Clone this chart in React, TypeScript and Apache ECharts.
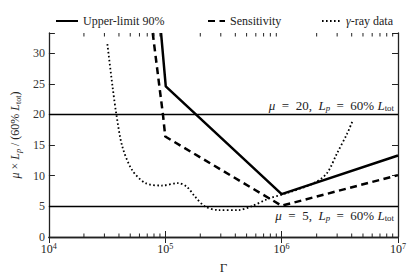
import React, { useEffect, useRef } from 'react';
import * as echarts from 'echarts';

// Data (Γ on x, μ × L_p / (60% L_tot) on y)
const upperGamma = [9.2e4, 1.01e5, 1.0e6, 1.0e7];
const upperMu = [33.3, 24.6, 7.0, 13.3];

const sensGamma = [7.8e4, 8.9e4, 9.55e4, 1.0e5, 1.0e6, 1.0e7];
const sensMu = [33.3, 24.6, 20.0, 16.4, 5.1, 10.1];

const rayGamma = [3.18e4, 3.52e4, 3.8e4, 4.27e4, 5.2e4, 6.76e4, 9.33e4, 1.29e5, 1.53e5, 1.8e5, 2.19e5, 2.85e5, 4.27e5, 5.5e5, 7.59e5, 1.12e6, 1.9e6, 2.45e6, 3.0e6, 3.66e6, 4.04e6];
const rayMu = [31.5, 24.6, 20.0, 14.8, 10.9, 8.8, 8.4, 8.8, 8.2, 6.6, 5.0, 4.4, 4.4, 5.0, 6.2, 7.2, 8.8, 10.4, 13.7, 16.9, 18.8];

const refLevels = [20, 5];
const refMuText = ['20', '5'];

const xMin = 1e4;
const xMax = 1e7;
const yMin = 0;
const yMax = 33.3;
const yInterval = 5;
const minorTickGamma = [2e4, 3e4, 4e4, 5e4, 6e4, 7e4, 8e4, 9e4, 2e5, 3e5, 4e5, 5e5, 6e5, 7e5, 8e5, 9e5, 2e6, 3e6, 4e6, 5e6, 6e6, 7e6, 8e6, 9e6];

const seriesNames = ['Upper-limit 90%', 'Sensitivity', 'γ-ray data'];

const FONT = 'Liberation Serif';

const mkRich = (size: number) => ({
  n: { fontFamily: FONT, fontSize: size, color: '#222', lineHeight: 14, verticalAlign: 'middle' as const },
  i: { fontFamily: FONT, fontSize: size, fontStyle: 'italic' as const, color: '#222', lineHeight: 14, verticalAlign: 'middle' as const },
  sub: { fontFamily: FONT, fontSize: size * 0.68, color: '#222', lineHeight: 14, verticalAlign: 'bottom' as const, padding: [6, 0, 0, 0] },
  subi: { fontFamily: FONT, fontSize: size * 0.68, fontStyle: 'italic' as const, color: '#222', lineHeight: 14, verticalAlign: 'bottom' as const, padding: [6, 0, 0, 0] },
  sup: { fontFamily: FONT, fontSize: size * 0.68, color: '#222', lineHeight: 14, verticalAlign: 'top' as const, padding: [0, 0, 6, 0] },
});
const rich12 = mkRich(12);
const rich13 = mkRich(13);

export default function App() {
  const ref = useRef<HTMLDivElement>(null);
  useEffect(() => {
    if (!ref.current) return;
    const chart = echarts.init(ref.current, null, { renderer: 'svg' });
    const zip = (xs: number[], ys: number[]) => xs.map((x, i) => [x, ys[i]]);
    const refLabel = (i: number) => `{i|μ}{n|  =  ${refMuText[i]},  }{i|L}{subi|p}{n|  =  60% }{i|L}{sub|tot}`;

    const xAxisBase = {
      type: 'log' as const,
      logBase: 10,
      min: xMin,
      max: xMax,
      axisLine: { show: true, lineStyle: { color: '#222', width: 1.3 } },
      axisTick: { show: true, inside: true, length: 6, lineStyle: { color: '#222', width: 1 } },
      splitLine: { show: false },
    };
    const yAxisBase = {
      type: 'value' as const,
      min: yMin,
      max: yMax,
      interval: yInterval,
      axisLine: { show: true, lineStyle: { color: '#222', width: 1.3 } },
      axisTick: { show: true, inside: true, length: 6, lineStyle: { color: '#222', width: 1 } },
      splitLine: { show: false },
    };

    const legendBase = {
      top: 10,
      itemHeight: 10,
      itemStyle: { opacity: 0 },
      textStyle: { fontFamily: FONT, fontSize: 12, color: '#222', rich: rich12 },
      formatter: (name: string) => (name === 'γ-ray data' ? '{i|γ}{n|-ray data}' : `{n|${name}}`),
    };

    chart.setOption({
      animation: false,
      textStyle: { fontFamily: FONT },
      grid: { left: 46, right: 17, top: 33, bottom: 43, containLabel: false },
      legend: [
        { ...legendBase, left: 50, itemWidth: 22, data: [seriesNames[0]] },
        { ...legendBase, left: 202, itemWidth: 17, data: [seriesNames[1]] },
        { ...legendBase, left: 316, itemWidth: 19, data: [seriesNames[2]] },
      ],
      xAxis: [
        {
          ...xAxisBase,
          position: 'bottom',
          name: 'Γ',
          nameLocation: 'middle',
          nameGap: 16,
          nameTextStyle: { fontFamily: FONT, fontSize: 13, color: '#222' },
          axisLabel: {
            show: true,
            margin: 5,
            fontFamily: FONT,
            formatter: (v: number) => `{n|10}{sup|${Math.round(Math.log10(v))}}`,
            rich: rich12,
          },
        },
        { ...xAxisBase, position: 'top', axisLabel: { show: false } },
      ],
      yAxis: [
        {
          ...yAxisBase,
          position: 'left',
          name: '{i|μ}{n| × }{i|L}{subi|p}{n| / (60% }{i|L}{sub|tot}{n|)}',
          nameLocation: 'middle',
          nameGap: 25,
          nameTextStyle: { fontFamily: FONT, rich: rich12 },
          axisLabel: {
            show: true,
            margin: 4,
            fontFamily: FONT,
            fontSize: 12,
            color: '#333',
            formatter: (v: number) => (Math.abs(v / yInterval - Math.round(v / yInterval)) < 1e-6 ? String(v) : ''),
          },
        },
        { ...yAxisBase, position: 'right', axisLabel: { show: false } },
      ],
      series: [
        {
          name: seriesNames[0],
          type: 'line',
          symbol: 'none',
          data: zip(upperGamma, upperMu),
          lineStyle: { color: '#000', width: 2.5, type: 'solid' },
          itemStyle: { color: '#000' },
          z: 5,
        },
        {
          name: seriesNames[1],
          type: 'line',
          symbol: 'none',
          data: zip(sensGamma, sensMu),
          lineStyle: { color: '#000', width: 2.5, type: [7, 4.5] },
          itemStyle: { color: '#000' },
          z: 5,
        },
        {
          name: seriesNames[2],
          type: 'line',
          symbol: 'none',
          smooth: 0.3,
          data: zip(rayGamma, rayMu),
          lineStyle: { color: '#000', width: 1.8, type: [1.6, 2.4] },
          itemStyle: { color: '#000' },
          z: 5,
        },
        {
          name: 'ref',
          type: 'line',
          data: [],
          markLine: {
            silent: true,
            symbol: 'none',
            lineStyle: { color: '#000', width: 1.3, type: 'solid' },
            data: refLevels.map((lv, i) => ({
              yAxis: lv,
              label: {
                show: true,
                position: i === 0 ? 'insideEndTop' : 'insideEndBottom',
                distance: [4, 2],
                formatter: refLabel(i),
                rich: rich13,
              },
            })),
          },
        },
        {
          name: 'minorTicks',
          type: 'custom',
          silent: true,
          data: minorTickGamma.map((g) => [g, yMin]),
          renderItem: (params: any, api: any) => {
            const v = api.value(0);
            const b = api.coord([v, yMin]);
            const t = api.coord([v, yMax]);
            const style = { stroke: '#222', lineWidth: 1 };
            return {
              type: 'group',
              children: [
                { type: 'line', shape: { x1: b[0], y1: b[1], x2: b[0], y2: b[1] - 3.5 }, style },
                { type: 'line', shape: { x1: t[0], y1: t[1], x2: t[0], y2: t[1] + 3.5 }, style },
              ],
            };
          },
          z: 6,
        },
      ],
    });
    return () => chart.dispose();
  }, []);
  return <div ref={ref} style={{ position: 'fixed', left: 0, top: 0, width: 415, height: 280, background: '#fff' }} />;
}
